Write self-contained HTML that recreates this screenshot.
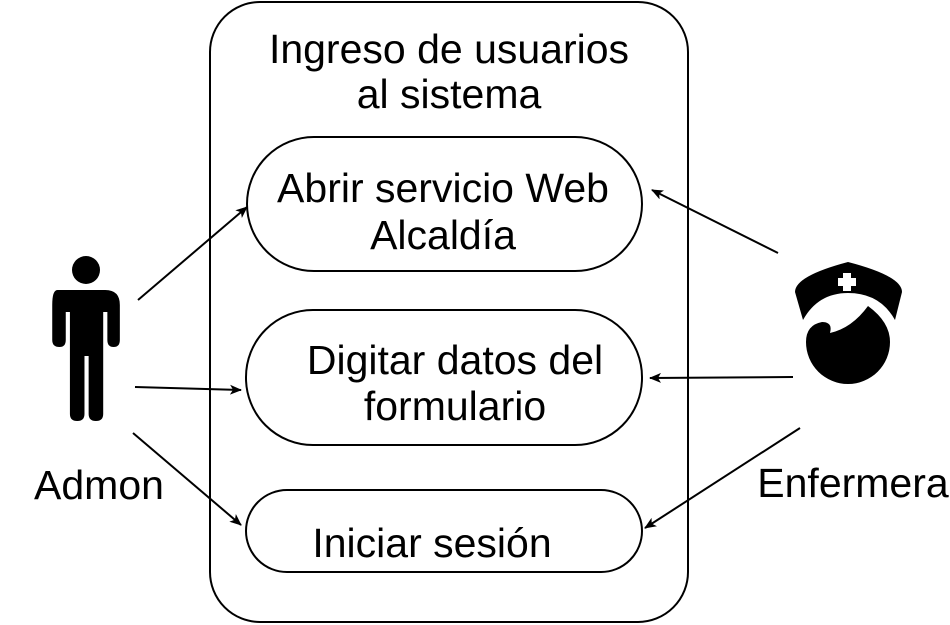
<html><head><style>body{margin:0;background:#fff}</style></head><body>
<svg width="950" height="625" viewBox="0 0 950 625" xmlns="http://www.w3.org/2000/svg" font-family="Liberation Sans, sans-serif">
<defs><marker id="a" markerWidth="12" markerHeight="10" refX="11" refY="5" orient="auto" markerUnits="userSpaceOnUse"><path d="M0,0 L12,5 L0,10 L3,5 Z" fill="#000"/></marker></defs>
<rect x="210" y="2" width="478" height="620" rx="50" fill="#fff" stroke="#000" stroke-width="2"/>
<g font-size="41" text-anchor="middle">
<text x="449" y="63">Ingreso de usuarios</text>
<text x="449" y="108">al sistema</text>
<rect x="247" y="137" width="395" height="134" rx="67" fill="#fff" stroke="#000" stroke-width="2"/>
<text x="443" y="202">Abrir servicio Web</text>
<text x="443" y="249">Alcaldía</text>
<rect x="246" y="310" width="396" height="135" rx="67" fill="#fff" stroke="#000" stroke-width="2"/>
<text x="455" y="374">Digitar datos del</text>
<text x="455" y="420">formulario</text>
<rect x="246" y="490" width="396" height="82" rx="41" fill="#fff" stroke="#000" stroke-width="2"/>
<text x="432" y="557">Iniciar sesión</text>
<text x="99" y="499">Admon</text>
<text x="853" y="497">Enfermera</text>
</g>
<g stroke="#000" stroke-width="2" marker-end="url(#a)">
<line x1="138" y1="300" x2="247" y2="207"/>
<line x1="135" y1="387" x2="241" y2="390"/>
<line x1="133" y1="433" x2="241" y2="525"/>
<line x1="778" y1="253" x2="652" y2="190"/>
<line x1="793" y1="377" x2="650" y2="378"/>
<line x1="800" y1="428" x2="645" y2="528"/>
</g>
<g fill="#000">
<circle cx="86" cy="270" r="14"/>
<path d="M62,290 H108 Q122,290 122,305 V340 Q122,347 116,347 Q110,347 110,340 V312 H106 V414 Q106,421 99,421 Q92,421 92,414 V356 H88 V414 Q88,421 81,421 Q74,421 74,414 V312 H70 V340 Q70,347 64,347 Q57,347 57,340 V305 Q57,290 62,290 Z" transform="translate(-6,0) scale(1.04,1) translate(-1,0)"/>
<path d="M803,320 L795,292 Q795,276 848,262 Q902,276 902,292 L895,320 Q880,293 848,293 Q818,293 803,320 Z"/>
<rect x="843" y="273" width="8" height="18" fill="#fff"/>
<rect x="838" y="278" width="18" height="8" fill="#fff"/>
<path d="M868,306 Q890,322 890,342 A42,42 0 0 1 806,342 Q806,325 822,322 Q833,322 830,333 Q852,328 868,306 Z"/>
</g>
</svg>
</body></html>
